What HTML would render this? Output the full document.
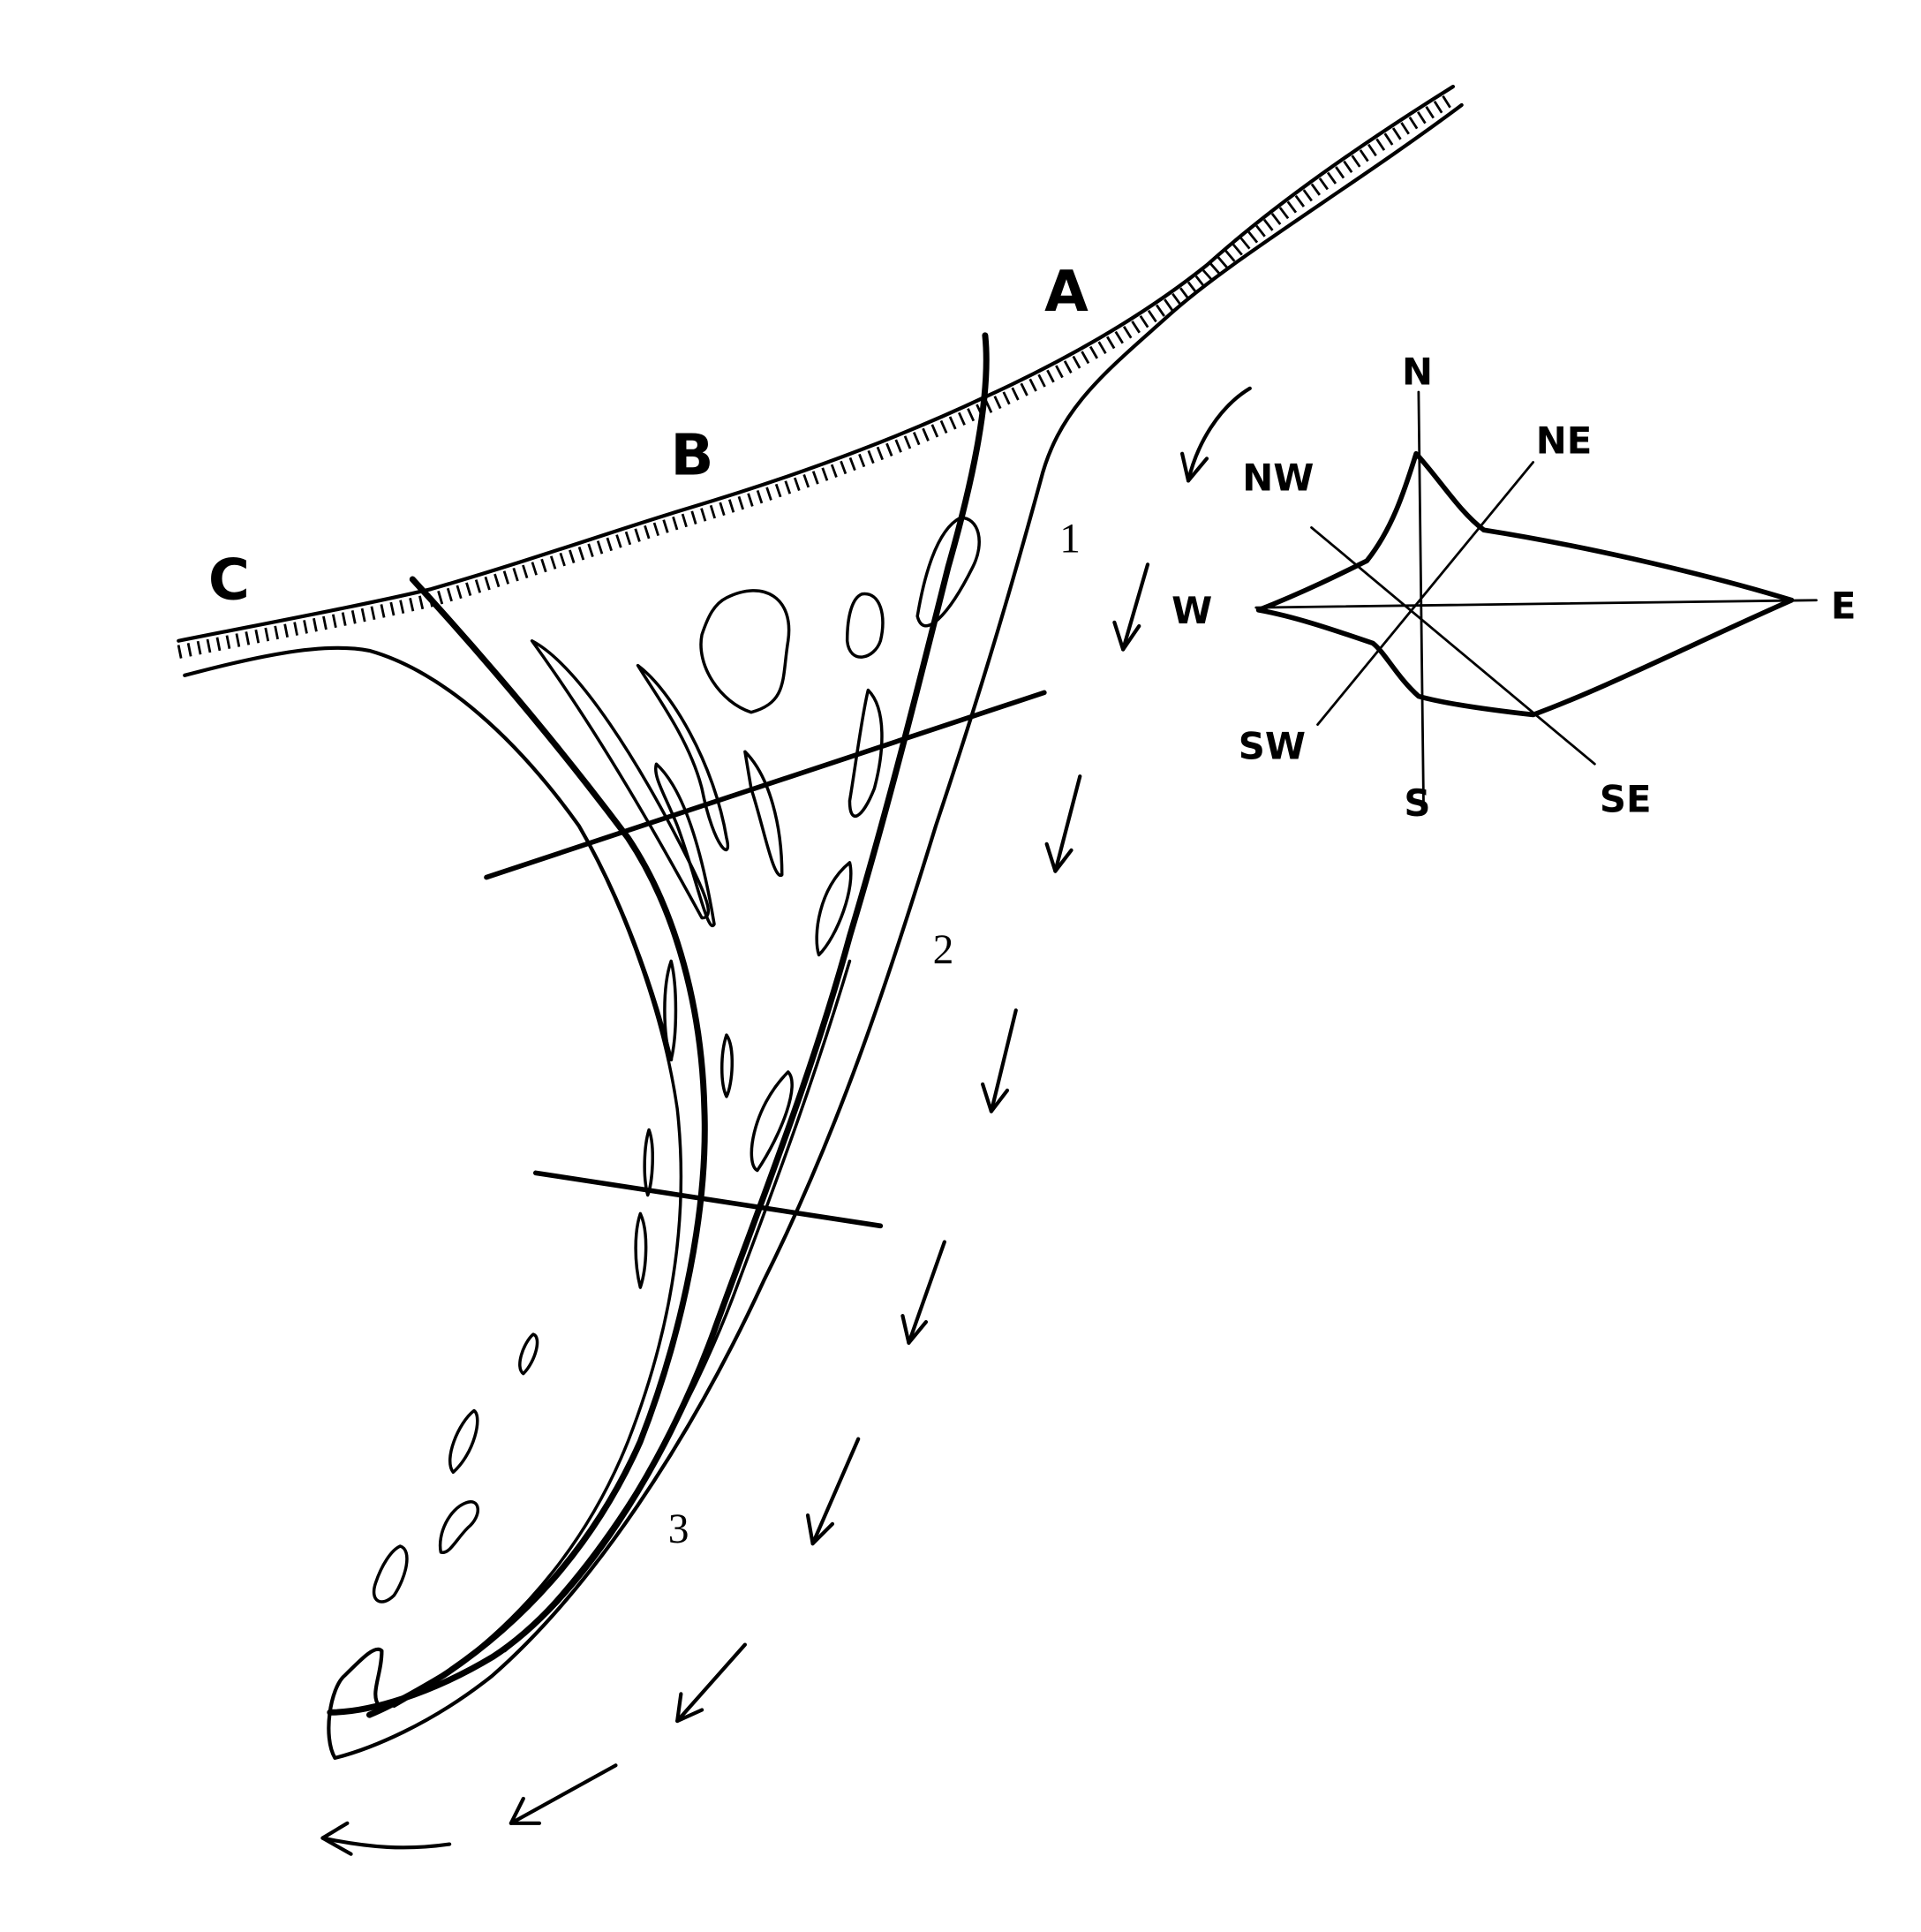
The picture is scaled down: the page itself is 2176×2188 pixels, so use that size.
<!DOCTYPE html>
<html><head><meta charset="utf-8"><style>
html,body{margin:0;padding:0;background:#fff}
svg{display:block}
</style></head><body>
<svg width="2176" height="2188" viewBox="0 0 1560 1568" xmlns="http://www.w3.org/2000/svg">
<rect width="1560" height="1568" fill="#fff"/>
<g fill="none" stroke="#000" stroke-linecap="round" stroke-linejoin="round">
<!-- hatched coast -->
<path d="M145,520 C220,505 290,492 350,478 C430,455 500,430 560,412 C650,385 730,355 800,322 C870,290 930,255 980,215 C1030,170 1100,120 1180,70" stroke-width="3"/>
<path d="M145,525 C220,510 290,497 350,483 C430,460 500,435 560,417 C650,390 730,360 800,327 C870,295 930,260 980,220 C1030,175 1100,125 1180,75" stroke-width="11" stroke-dasharray="2 6" stroke-linecap="butt" transform="translate(0,4)"/>
<!-- lower coast / left edge -->
<path d="M150,548 C200,535 260,520 300,528 C360,545 420,600 470,670 C505,730 530,800 545,860" stroke-width="3"/>
<!-- right outer line -->
<path d="M1187,85 C1100,150 1000,210 950,255 C900,300 860,330 845,390 C815,500 790,580 760,670 C720,800 680,920 620,1040 C560,1170 480,1290 400,1360 C350,1400 300,1420 272,1427 C262,1410 268,1370 280,1360 C295,1345 305,1335 310,1340 C310,1360 300,1375 308,1385" stroke-width="3"/>
<!-- thick line A -->
<path d="M800,272 C805,320 790,390 770,460 C745,560 720,660 690,760 C660,870 620,970 580,1080 C540,1190 470,1300 400,1345 C350,1375 300,1390 268,1390" stroke-width="5"/>
<!-- thick left line -->
<path d="M335,470 C390,530 450,600 510,680 C550,740 570,820 572,900 C575,980 555,1080 520,1170 C480,1260 420,1320 360,1360 C330,1378 310,1388 300,1392" stroke-width="5"/>
<!-- inner spit lines -->
<path d="M470,670 C510,740 540,830 550,900 C560,990 545,1080 510,1170 C470,1270 400,1340 320,1385" stroke-width="2.5"/>
<path d="M690,780 C660,880 630,960 600,1040 C560,1150 490,1270 410,1340" stroke-width="2.5"/>
<!-- transects -->
<path d="M395,712 L848,562" stroke-width="4"/>
<path d="M435,952 L715,995" stroke-width="4"/>
<!-- islands / bars -->
<g stroke-width="2.5">
<path d="M590,485 C620,470 645,485 640,520 C635,550 640,570 610,578 C585,570 565,540 570,515 C575,500 580,490 590,485 Z"/>
<path d="M700,482 C715,480 720,500 715,520 C710,535 690,540 688,520 C688,500 692,485 700,482 Z"/>
<path d="M780,420 C795,420 800,440 790,460 C770,500 750,520 745,500 C750,470 760,430 780,420 Z"/>
<path d="M705,560 C720,575 718,610 710,640 C700,665 690,670 690,650 C695,620 700,580 705,560 Z"/>
<path d="M690,700 C695,720 680,760 665,775 C660,760 665,720 690,700 Z"/>
<path d="M640,870 C650,880 635,920 615,950 C605,945 610,900 640,870 Z"/>
<path d="M432,520 C470,540 520,620 560,700 C575,730 580,745 570,745 C540,690 490,600 432,520 Z"/>
<path d="M518,540 C545,560 580,620 590,680 C595,700 580,690 570,640 C560,600 530,560 518,540 Z"/>
<path d="M533,620 C555,640 570,690 580,750 C575,760 565,710 550,670 C540,645 530,630 533,620 Z"/>
<path d="M605,610 C625,630 635,670 635,710 C628,715 620,670 610,640 Z"/>
<path d="M545,780 C550,800 550,840 545,860 C538,840 538,800 545,780 Z"/>
<path d="M590,840 C597,850 595,880 590,890 C585,880 585,855 590,840 Z"/>
<path d="M527,917 C532,930 530,960 526,970 C522,955 523,930 527,917 Z"/>
<path d="M520,985 C527,1000 525,1030 520,1045 C515,1025 515,1000 520,985 Z"/>
<path d="M433,1083 C440,1085 435,1105 425,1115 C418,1110 425,1090 433,1083 Z"/>
<path d="M385,1145 C392,1150 385,1180 368,1195 C360,1185 372,1155 385,1145 Z"/>
<path d="M378,1220 C390,1215 392,1230 380,1240 C370,1250 365,1262 358,1260 C355,1245 365,1225 378,1220 Z"/>
<path d="M325,1255 C335,1258 330,1280 320,1295 C310,1305 300,1300 305,1285 C310,1270 318,1258 325,1255 Z"/>
</g>
<!-- arrows -->
<g stroke-width="3">
<path d="M1015,315 C990,330 972,360 965,390"/><path d="M960,368 L965,390 L980,372"/>
<path d="M932,458 L912,527"/><path d="M905,505 L912,527 L925,508"/>
<path d="M877,630 L857,707"/><path d="M850,685 L857,707 L870,690"/>
<path d="M825,820 L805,902"/><path d="M798,880 L805,902 L818,885"/>
<path d="M767,1008 L738,1090"/><path d="M733,1068 L738,1090 L752,1073"/>
<path d="M697,1168 L660,1253"/><path d="M656,1230 L660,1253 L676,1237"/>
<path d="M605,1335 L550,1397"/><path d="M553,1375 L550,1397 L570,1388"/>
<path d="M500,1433 L415,1480"/><path d="M425,1460 L415,1480 L438,1480"/>
<path d="M365,1497 C330,1502 300,1500 262,1492"/><path d="M282,1480 L262,1492 L285,1505"/>
</g>
<!-- compass -->
<g stroke-width="2">
<path d="M1152,318 L1156,650"/>
<path d="M1020,493 L1475,487"/>
<path d="M1065,428 L1295,620"/>
<path d="M1245,375 L1070,588"/>
</g>
<path d="M1150,368 C1170,390 1185,415 1205,430 C1300,445 1400,470 1455,487 C1380,520 1300,560 1245,580 C1200,575 1170,570 1152,565 C1135,550 1125,530 1115,522 C1080,510 1050,500 1022,495 C1060,480 1090,465 1110,455 C1130,430 1140,400 1150,368 Z" stroke-width="4"/>
</g>
<g font-family="'DejaVu Sans','Liberation Sans',sans-serif" font-weight="bold" fill="#000">
<text x="866" y="252" font-size="46" text-anchor="middle">A</text>
<text x="562" y="385" font-size="46" text-anchor="middle">B</text>
<text x="186" y="486" font-size="46" text-anchor="middle">C</text>
<g font-size="30" text-anchor="middle">
<text x="1151" y="312">N</text>
<text x="1270" y="368">NE</text>
<text x="1038" y="398">NW</text>
<text x="968" y="506">W</text>
<text x="1497" y="502">E</text>
<text x="1033" y="616">SW</text>
<text x="1151" y="662">S</text>
<text x="1320" y="659">SE</text>
</g>
</g>
<g font-family="'Liberation Serif',serif" font-size="34" fill="#000" text-anchor="middle">
<text x="869" y="448">1</text>
<text x="766" y="782">2</text>
<text x="551" y="1252">3</text>
</g>
</svg>
</body></html>
